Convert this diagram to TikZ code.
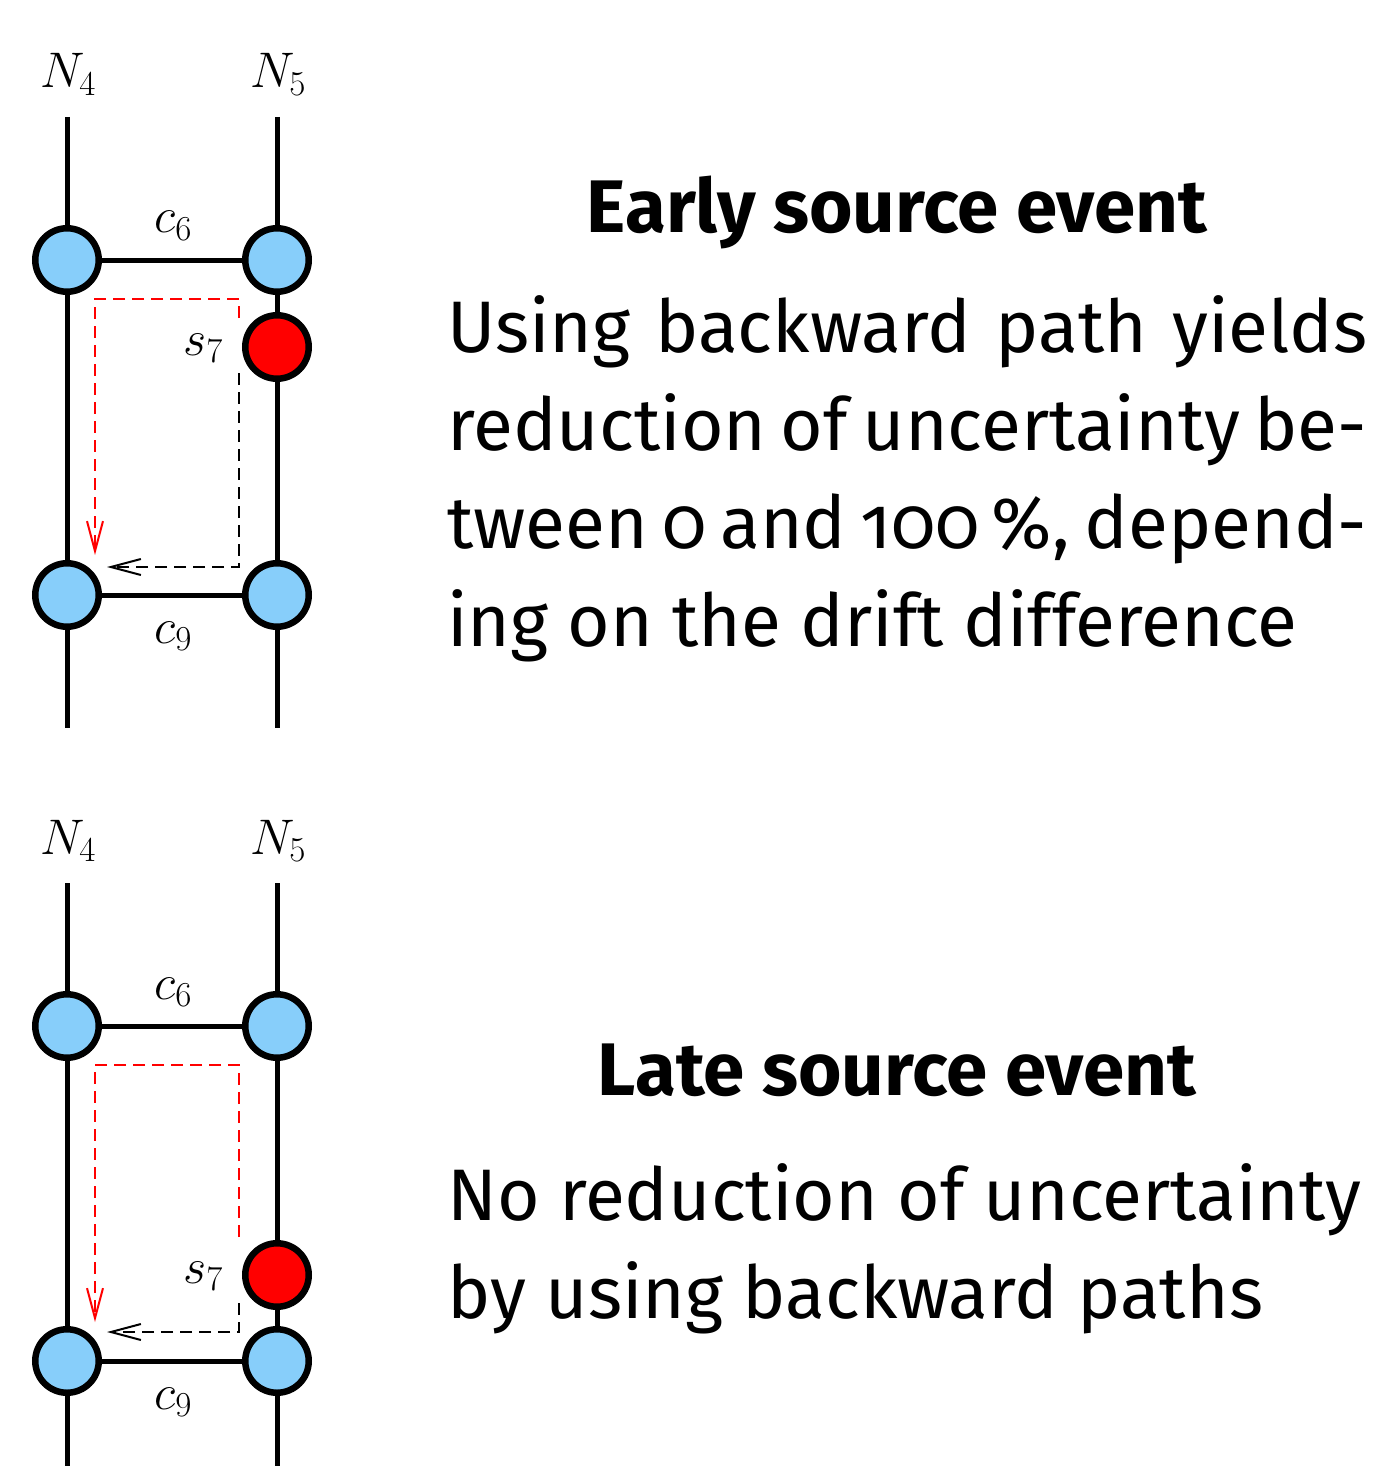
\RequirePackage{fix-cm}
\documentclass[tikz,border=0pt]{standalone}
\usepackage[no-math]{fontspec}
\setmainfont{Fira Sans}[Numbers=OldStyle]
\usetikzlibrary{arrows.meta}
\definecolor{nodeblue}{HTML}{87CEFA}
\definecolor{nodered}{HTML}{FF0000}
\tikzset{
  timeline/.style={line width=5pt, line cap=butt},
  chan/.style={line width=5pt},
  evt/.style={circle, draw=black, line width=6.5pt, fill=nodeblue, minimum size=63.5pt, inner sep=0pt},
  srcevt/.style={evt, fill=nodered},
  mlabel/.style={inner sep=0pt, anchor=base, font=\fontsize{50pt}{60pt}\selectfont},
  redpath/.style={draw=nodered, line width=2pt, dash pattern=on 12pt off 7pt, -{Straight Barb[length=30pt,width=16pt,line width=2pt]}},
  blkpath/.style={draw=black, line width=2pt, dash pattern=on 12pt off 7pt, -{Straight Barb[length=30pt,width=16pt,line width=2pt]}},
  title/.style={inner sep=0pt, anchor=base, font=\bfseries\fontsize{74.5pt}{98pt}\selectfont},
  body/.style={inner sep=0pt, anchor=base west, font=\fontsize{73pt}{98pt}\selectfont}
}
\begin{document}
\begin{tikzpicture}[x=1pt,y=-1pt]
\useasboundingbox (0,0) rectangle (1398,1466);
% ---------------- Panel 1 ----------------
\node[mlabel] (n4a) at (68,88) {$N_4$};
\node[mlabel] (n5a) at (278,88) {$N_5$};
\coordinate (t4a) at (67,117);
\coordinate (b4a) at (67,728);
\coordinate (t5a) at (277,117);
\coordinate (b5a) at (277,728);
\draw[timeline] (t4a) -- (b4a);
\draw[timeline] (t5a) -- (b5a);
\node[evt] (a1) at (67,260) {};
\node[evt] (a2) at (277,260) {};
\node[srcevt] (ra) at (277,347) {};
\node[evt] (a3) at (67,595) {};
\node[evt] (a4) at (277,595) {};
\draw[chan] (a1) -- (a2);
\draw[chan] (a3) -- (a4);
\node[mlabel] (c6a) at (173,233) {$c_6$};
\node[mlabel] (c9a) at (173,643) {$c_9$};
\node[mlabel] (s7a) at (203,355) {$s_7$};
\coordinate (rsa) at (239,318);
\coordinate (rea) at (95,555);
\coordinate (bsa) at (239,373);
\coordinate (bea) at (107,567);
\draw[redpath] (rsa) -- (239,299) -- (95,299) -- (rea);
\draw[blkpath] (bsa) -- (239,567) -- (bea);
\node[title] (ta) at (897,232) {Early source event};
\node[body] (l1) at (447,352) {\makebox[920pt][s]{Using backward path yields}};
\node[body] (l2) at (447,450) {\makebox[920pt][s]{reduction of uncertainty be-}};
\node[body] (l3) at (447,548) {\makebox[920pt][s]{tween 0 and 100\,\%, depend-}};
\node[body] (l4) at (447,646) {ing on the drift difference};
% ---------------- Panel 2 ----------------
\node[mlabel] (n4b) at (68,854) {$N_4$};
\node[mlabel] (n5b) at (278,854) {$N_5$};
\coordinate (t4b) at (67,883);
\coordinate (b4b) at (67,1470);
\coordinate (t5b) at (277,883);
\coordinate (b5b) at (277,1470);
\draw[timeline] (t4b) -- (b4b);
\draw[timeline] (t5b) -- (b5b);
\node[evt] (d1) at (67,1026) {};
\node[evt] (d2) at (277,1026) {};
\node[srcevt] (rb) at (277,1275) {};
\node[evt] (d3) at (67,1361) {};
\node[evt] (d4) at (277,1361) {};
\draw[chan] (d1) -- (d2);
\draw[chan] (d3) -- (d4);
\node[mlabel] (c6b) at (173,999) {$c_6$};
\node[mlabel] (c9b) at (173,1409) {$c_9$};
\node[mlabel] (s7b) at (203,1283) {$s_7$};
\coordinate (rsb) at (239,1237);
\coordinate (reb) at (95,1322);
\coordinate (bsb) at (239,1303);
\coordinate (beb) at (107,1332);
\draw[redpath] (rsb) -- (239,1065) -- (95,1065) -- (reb);
\draw[blkpath] (bsb) -- (239,1332) -- (beb);
\node[title] (tb) at (897,1095) {Late source event};
\node[body] (m1) at (447,1220) {No reduction of uncertainty};
\node[body] (m2) at (447,1318) {by using backward paths};
\end{tikzpicture}
\end{document}
